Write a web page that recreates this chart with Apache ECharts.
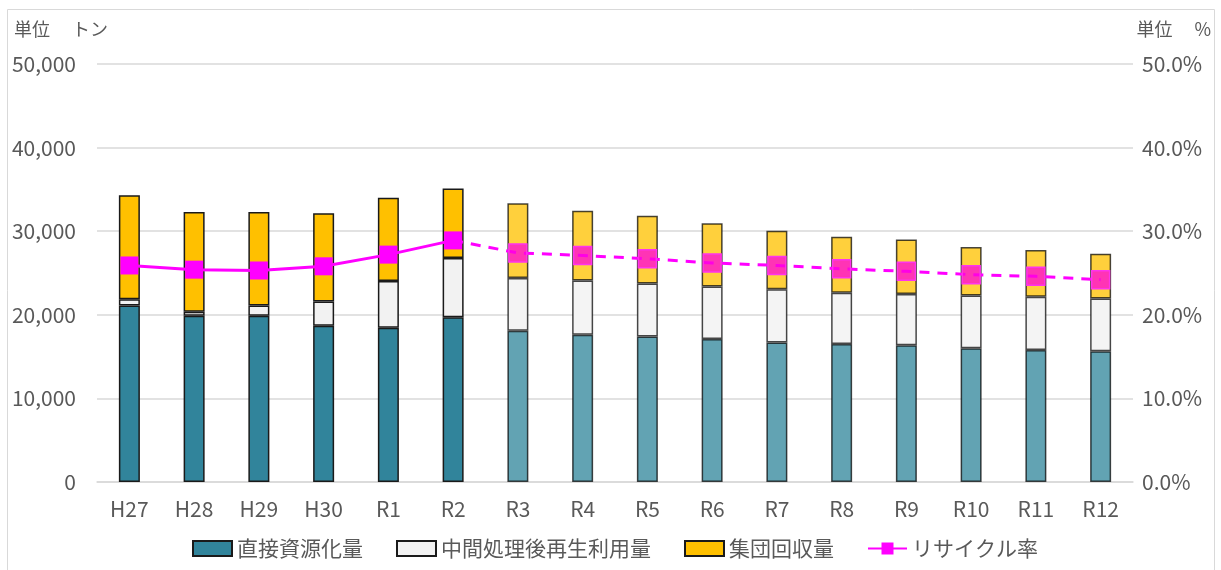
<!DOCTYPE html>
<html><head><meta charset="utf-8">
<script src="https://cdn.jsdelivr.net/npm/echarts@6/dist/echarts.min.js"></script>
<style>html,body{margin:0;padding:0;background:#fff}#c{width:1221px;height:570px}</style>
</head><body><div id="c"></div>
<script>
const categories = ['H27','H28','H29','H30','R1','R2','R3','R4','R5','R6','R7','R8','R9','R10','R11','R12'];
const direct = [21100,19900,19900,18700,18450,19700,18100,17600,17400,17100,16700,16500,16350,16000,15800,15650];
const intermediate = [750,450,1200,2900,5600,7100,6300,6500,6350,6300,6350,6150,6150,6300,6350,6300];
const collective = [12450,11950,11200,10550,9950,8300,8950,8350,8100,7550,7000,6700,6500,5800,5600,5350];
const rate = [25.9,25.4,25.3,25.8,27.2,28.9,27.4,27.1,26.7,26.2,25.9,25.5,25.2,24.8,24.6,24.2];
const leftTicks = ['0','10,000','20,000','30,000','40,000','50,000'];
const lastActual = 5; // index of R2

const fontFam = '"Noto Sans CJK JP","Noto Sans",sans-serif';
const txt = '#595959';

function barData(vals, fcColor) {
  return vals.map((v, i) => i <= lastActual ? v : {
    value: v,
    itemStyle: { color: fcColor, borderColor: 'rgba(0,0,0,0.72)' }
  });
}

const solidRate = rate.map((v, i) => i <= lastActual ? v : null);
const dashRate = rate.map((v, i) => i < lastActual ? null : (i === lastActual ? { value: v, symbol: 'none' } : v));

const barCommon = {
  type: 'bar', stack: 'total', barWidth: 21,
  emphasis: { disabled: true }
};

const chart = echarts.init(document.getElementById('c'));
chart.setOption({
  animation: false,
  textStyle: { fontFamily: fontFam },
  grid: { left: 97, right: 88, top: 64, bottom: 88 },
  graphic: [
    { type: 'rect', shape: { x: 7.5, y: 9.5, width: 1207, height: 580 }, style: { fill: 'none', stroke: '#d9d9d9', lineWidth: 1 }, z: -1 },
    { type: 'text', left: 14, top: 20, style: { text: '単位 　トン', font: '18px ' + fontFam, fill: txt } },
    { type: 'text', right: 10, top: 20, style: { text: '単位 　%', font: '18px ' + fontFam, fill: txt } }
  ],
  legend: {
    top: 533, left: 187, itemGap: 33, itemWidth: 39, itemHeight: 15,
    textStyle: { fontSize: 21, color: txt, fontFamily: fontFam },
    data: [
      { name: '直接資源化量', icon: 'rect' },
      { name: '中間処理後再生利用量', icon: 'rect' },
      { name: '集団回収量', icon: 'rect' },
      'リサイクル率'
    ]
  },
  xAxis: {
    type: 'category', data: categories,
    axisTick: { show: false },
    axisLine: { lineStyle: { color: '#d9d9d9', width: 1.5 } },
    axisLabel: { fontSize: 21, color: txt, margin: 17 }
  },
  yAxis: [
    { type: 'value', min: 0, max: 50000, interval: 10000,
      axisLabel: { fontSize: 21, color: txt, margin: 21, formatter: v => leftTicks[v / 10000] },
      splitLine: { lineStyle: { color: '#d9d9d9', width: 1.5 } },
      axisLine: { show: false }, axisTick: { show: false } },
    { type: 'value', min: 0, max: 50, interval: 10,
      axisLabel: { fontSize: 21, color: txt, margin: 9, formatter: v => v.toFixed(1) + '%' },
      splitLine: { show: false }, axisLine: { show: false }, axisTick: { show: false } }
  ],
  series: [
    Object.assign({}, barCommon, { name: '直接資源化量', data: barData(direct, '#62A3B3'), itemStyle: { color: '#31849B', borderColor: '#1a1a1a', borderWidth: 1.5 } }),
    Object.assign({}, barCommon, { name: '中間処理後再生利用量', data: barData(intermediate, '#F4F4F4'), itemStyle: { color: '#F2F2F2', borderColor: '#1a1a1a', borderWidth: 1.5 } }),
    Object.assign({}, barCommon, { name: '集団回収量', data: barData(collective, '#FFD03C'), itemStyle: { color: '#FFC000', borderColor: '#1a1a1a', borderWidth: 1.5 } }),
    { name: 'リサイクル率', type: 'line', yAxisIndex: 1, data: solidRate,
      symbol: 'rect', symbolSize: 18,
      itemStyle: { color: '#FF00FF' }, lineStyle: { color: '#FF00FF', width: 3 }, z: 5,
      emphasis: { disabled: true } },
    { name: 'リサイクル率', type: 'line', yAxisIndex: 1, data: dashRate,
      symbol: 'rect', symbolSize: 18,
      itemStyle: { color: 'rgba(255,0,221,0.75)', borderColor: '#FF33EE', borderWidth: 1.5 },
      lineStyle: { color: '#FF00FF', width: 3, type: [10, 8] }, z: 4,
      emphasis: { disabled: true } }
  ]
});
</script></body></html>
